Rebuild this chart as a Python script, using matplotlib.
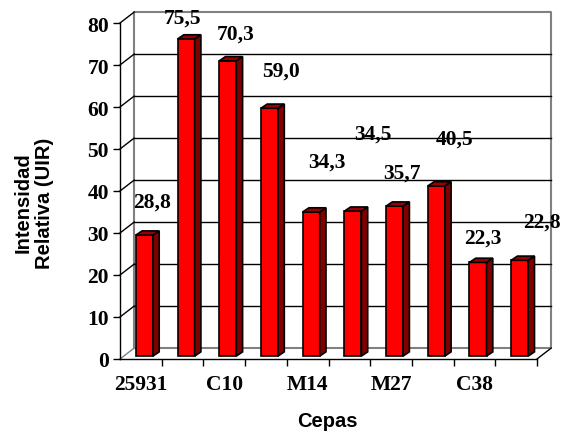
import numpy as np
import matplotlib.pyplot as plt
from matplotlib.patches import Polygon, Rectangle

# intensidad relativa por cepa (UIR)
valores = [28.8, 75.5, 70.3, 59.0, 34.3, 34.5, 35.7, 40.5, 22.3, 22.8]
etiquetas_x = ['25931', 'C10', 'M14', 'M27', 'C38']
ticks_y = [0, 10, 20, 30, 40, 50, 60, 70, 80]

# desplazamiento de cada rotulo respecto a (centro de la barra, valor)
desp_rotulos = [(0.27, 8.6), (0.0, 5.9), (0.28, 7.1), (0.36, 9.6), (0.46, 12.6),
                (0.56, 19.1), (0.26, 8.8), (0.53, 11.9), (0.2, 6.7), (0.62, 9.8)]

serif = 'Liberation Serif'
sans = 'Liberation Sans'

W, H = 562, 435
fig = plt.figure(figsize=(W / 100, H / 100), dpi=100)
fig.patch.set_facecolor('white')
ax = fig.add_axes([120 / W, 75 / H, 417 / W, 336 / H])
ax.set_xlim(0, 10)
ax.set_ylim(0, 80)
ax.spines['top'].set_visible(False)
ax.spines['right'].set_visible(False)
for s in ['left', 'bottom']:
    ax.spines[s].set_linewidth(1.0)

# pared del fondo (efecto 3D)
DX, DY = 0.34, 2.6
gris = '#808080'
n = len(valores)
ax.plot([DX, DX, n + DX, n + DX, DX], [DY, 80 + DY, 80 + DY, DY, DY],
        color=gris, lw=1.5, clip_on=False, zorder=1)
for v in ticks_y[1:-1]:
    ax.plot([DX, n + DX], [v + DY, v + DY], color='black', lw=1.0, clip_on=False, zorder=1)
for v in ticks_y:
    ax.plot([0, DX], [v, v + DY], color=gris if v == 0 else 'black', lw=1.0,
            clip_on=False, zorder=1)
ax.plot([n, n + DX], [0, DY], color='black', lw=1.0, clip_on=False, zorder=1)

# barras con cara frontal, lateral y superior
SX, SY = 0.15, 1.0
y0 = 0.7
ancho = 0.41
for i, v in enumerate(valores):
    x0 = i + 0.38
    ax.add_patch(Rectangle((x0, y0), ancho, v, facecolor='#ff0000',
                           edgecolor='black', lw=1.2, zorder=3))
    lado = [(x0 + ancho, y0), (x0 + ancho + SX, y0 + SY),
            (x0 + ancho + SX, y0 + v + SY), (x0 + ancho, y0 + v)]
    ax.add_patch(Polygon(lado, closed=True, facecolor='#800000',
                         edgecolor='black', lw=1.2, zorder=3))
    tapa = [(x0, y0 + v), (x0 + SX, y0 + v + SY),
            (x0 + ancho + SX, y0 + v + SY), (x0 + ancho, y0 + v)]
    ax.add_patch(Polygon(tapa, closed=True, facecolor='#990000',
                         edgecolor='black', lw=1.2, zorder=3))
    dx, dy = desp_rotulos[i]
    ax.text(i + 0.5 + dx, v + dy, f'{v:.1f}'.replace('.', ','),
            ha='center', va='center', fontsize=15.5, fontweight='bold',
            family=serif, zorder=5, clip_on=False)

# ejes
ax.set_yticks(ticks_y)
ax.set_yticklabels([str(t) for t in ticks_y], family=serif, fontweight='bold', fontsize=15.5)
ax.tick_params(axis='y', length=5, width=1, pad=3)
ax.set_xticks(np.arange(1, n + 1))
ax.set_xticklabels([])
ax.tick_params(axis='x', which='major', length=5, width=1)
ax.set_xticks(np.arange(0.5, n, 2), minor=True)
ax.set_xticklabels(etiquetas_x, minor=True, family=serif, fontweight='bold', fontsize=15.5)
ax.tick_params(axis='x', which='minor', length=0, pad=11)

fig.text(327 / W, 1 - 422 / H, 'Cepas', ha='center', va='center',
         family=sans, fontweight='bold', fontsize=14.5)
fig.text(34 / W, 1 - 203 / H, 'Intensidad\nRelativa (UIR)', ha='center', va='center',
         rotation=90, family=sans, fontweight='bold', fontsize=14.5,
         multialignment='center', linespacing=1.2)

fig.savefig('out.png', dpi=100)
